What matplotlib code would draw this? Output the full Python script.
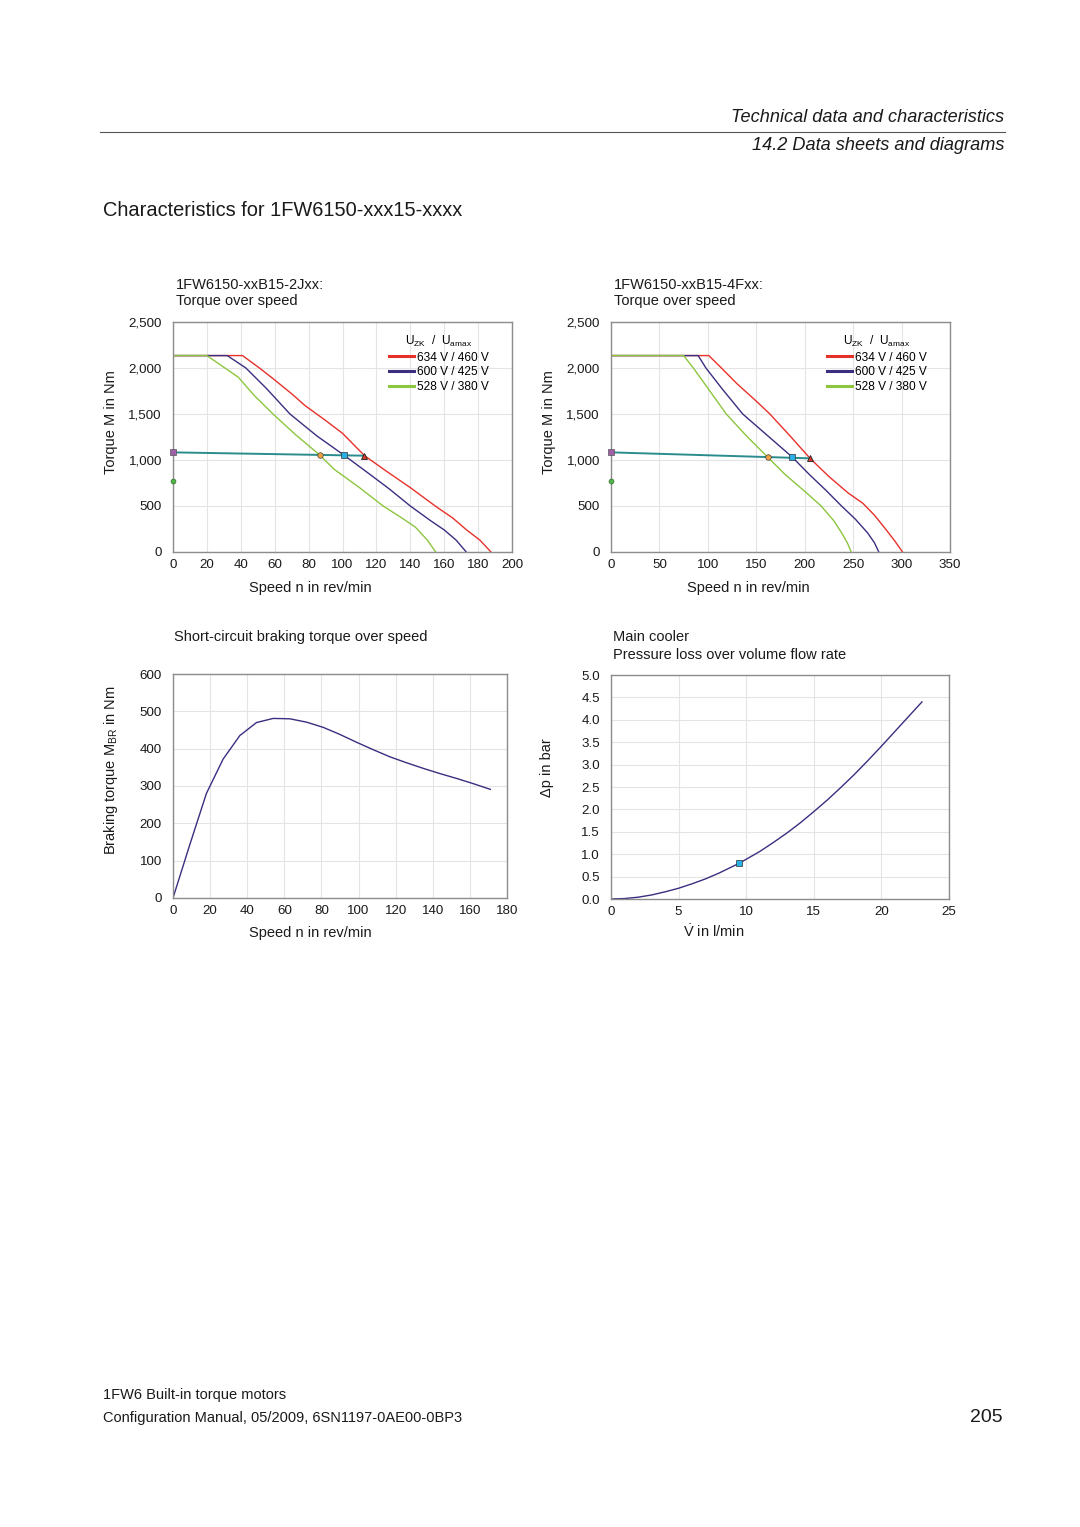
import matplotlib
matplotlib.use("Agg")
import matplotlib.pyplot as plt
from matplotlib.ticker import FuncFormatter, MultipleLocator

plt.rcParams['font.family'] = ['Liberation Sans', 'DejaVu Sans']
plt.rcParams['mathtext.fontset'] = 'custom'
plt.rcParams['mathtext.rm'] = 'Liberation Sans'
plt.rcParams['mathtext.it'] = 'Liberation Sans:italic'
plt.rcParams['mathtext.bf'] = 'Liberation Sans:bold'

# ---------------- data ----------------
# Chart 1: 1FW6150-xxB15-2Jxx torque over speed
tl_red_n = [0, 41, 51, 60, 70, 78, 90, 100, 113, 125, 140, 155, 165, 173, 181, 187.6]
tl_red_m = [2135, 2135, 2000, 1870, 1720, 1590, 1430, 1290, 1047, 890, 700, 496, 370, 243, 130, 0]
tl_blue_n = [0, 32, 43, 55, 69, 85, 101, 115, 128, 140, 152, 160, 167, 173]
tl_blue_m = [2135, 2135, 2000, 1780, 1500, 1260, 1051, 860, 680, 500, 340, 240, 130, 0]
tl_green_n = [0, 20, 38.5, 48, 59, 72, 86.6, 95, 110, 124, 135, 143, 150, 155]
tl_green_m = [2135, 2135, 1900, 1700, 1500, 1280, 1054, 900, 700, 500, 370, 270, 130, 0]
tl_op_n = [0, 112.7]
tl_op_m = [1083, 1047]
tl_pts_n = [0, 0, 86.6, 101.1, 112.7]
tl_pts_m = [1083, 768, 1054, 1051, 1047]

# Chart 2: 1FW6150-xxB15-4Fxx torque over speed
tr_red_n = [0, 101, 114, 130, 150, 164, 185, 205.5, 225, 245, 260, 272, 284, 293, 301]
tr_red_m = [2135, 2135, 2000, 1830, 1640, 1500, 1260, 1018, 820, 640, 530, 400, 243, 120, 0]
tr_blue_n = [0, 90, 98, 115, 136, 160, 187, 205, 222, 238, 252, 265, 272, 276.5]
tr_blue_m = [2135, 2135, 2000, 1770, 1500, 1280, 1033, 840, 670, 500, 360, 207, 100, 0]
tr_green_n = [0, 75, 85, 100, 119, 140, 161.6, 180, 200, 217, 230, 238, 244, 248]
tr_green_m = [2135, 2135, 2000, 1780, 1500, 1260, 1033, 840, 660, 500, 340, 210, 100, 0]
tr_op_n = [0, 205.5]
tr_op_m = [1083, 1018]
tr_pts_n = [0, 0, 161.6, 187, 205.5]
tr_pts_m = [1083, 768, 1033, 1033, 1018]

# Chart 3: short-circuit braking torque over speed
br_n = [0, 9, 18, 27, 36, 45, 54, 63, 72, 81, 90, 99, 108, 117, 126, 135, 144, 153, 162, 171]
br_m = [0, 142, 280, 372, 435, 470, 481, 480, 471, 457, 438, 417, 397, 378, 362, 347, 333, 320, 306, 291]

# Chart 4: main cooler pressure loss over volume flow rate
pl_v = [0, 1, 2, 3, 4, 5, 6, 7, 8, 9.5, 11, 12, 13, 14, 15, 16, 17, 18, 19, 20, 21, 22, 23]
pl_p = [0, 0.01, 0.04, 0.09, 0.16, 0.24, 0.34, 0.45, 0.58, 0.80, 1.06, 1.26, 1.47, 1.70, 1.95, 2.21, 2.49, 2.78, 3.09, 3.41, 3.74, 4.07, 4.40]
pl_pt_v = [9.5]
pl_pt_p = [0.80]

legend_labels = ['634 V / 460 V', '600 V / 425 V', '528 V / 380 V']

# ---------------- style ----------------
RED = '#e8302a'
NAVY = '#3a2e80'
GREEN = '#8cc63e'
TEAL = '#2a8c8c'
GRID = '#e4e4e4'
SPINE = '#8c8c8c'
TXT = '#1a1a1a'
FS = 10.5

W, H = 1080, 1527
fig = plt.figure(figsize=(W / 100, H / 100), dpi=100)


def ax_box(l, t, r, b):
    return [l / W, 1 - b / H, (r - l) / W, (b - t) / H]


def style(ax, xmax, xstep, ymax, ystep, fmt):
    ax.set_xlim(0, xmax)
    ax.set_ylim(0, ymax)
    ax.xaxis.set_major_locator(MultipleLocator(xstep))
    ax.yaxis.set_major_locator(MultipleLocator(ystep))
    ax.yaxis.set_major_formatter(FuncFormatter(fmt))
    ax.grid(True, color=GRID, lw=0.8)
    ax.set_axisbelow(True)
    for s in ax.spines.values():
        s.set_color(SPINE)
        s.set_linewidth(1.0)
    ax.tick_params(length=0, labelsize=9.6, colors=TXT)
    ax.tick_params(axis='y', pad=8)
    ax.tick_params(axis='x', pad=5)


def thousands(v, p):
    return f'{int(v):,}'


def torque_chart(box, rn, rm, bn, bm, gn, gm, on, om, pn, pm, xmax, xstep):
    ax = fig.add_axes(ax_box(*box))
    style(ax, xmax, xstep, 2500, 500, thousands)
    l1, = ax.plot(rn, rm, color=RED, lw=1.0)
    l2, = ax.plot(bn, bm, color=NAVY, lw=1.0)
    l3, = ax.plot(gn, gm, color=GREEN, lw=1.0)
    ax.plot(on, om, color=TEAL, lw=1.4, zorder=4)
    ax.plot(pn[0], pm[0], 's', color='#a060a8', mec='#555555', mew=0.5, ms=4, zorder=6, clip_on=False)
    ax.plot(pn[1], pm[1], 'o', color='#4fb848', mec='#2e6a2a', mew=0.5, ms=3.5, zorder=6, clip_on=False)
    ax.plot(pn[2], pm[2], 'o', color='#f0a040', mec='#444444', mew=0.5, ms=4, zorder=6)
    ax.plot(pn[3], pm[3], 's', color='#2ab0e8', mec='#333333', mew=0.5, ms=4.5, zorder=6)
    ax.plot(pn[4], pm[4], '^', color='#d9382c', mec='#222222', mew=0.6, ms=4.5, zorder=6)
    leg = ax.legend([l1, l2, l3], legend_labels, loc='upper right',
                    bbox_to_anchor=(0.955, 0.985), frameon=False, fontsize=8.6,
                    handlelength=2.1, handletextpad=0.2, labelspacing=0.22,
                    borderpad=0.2, title=r'U$_{\mathrm{ZK}}$  /  U$_{\mathrm{amax}}$',
                    title_fontsize=8.6)
    for h in leg.get_lines():
        h.set_linewidth(2.2)
    return ax


ax1 = torque_chart((173, 322, 512, 552), tl_red_n, tl_red_m, tl_blue_n, tl_blue_m,
                   tl_green_n, tl_green_m, tl_op_n, tl_op_m, tl_pts_n, tl_pts_m, 200, 20)
ax2 = torque_chart((611, 322, 950, 552), tr_red_n, tr_red_m, tr_blue_n, tr_blue_m,
                   tr_green_n, tr_green_m, tr_op_n, tr_op_m, tr_pts_n, tr_pts_m, 350, 50)

ax3 = fig.add_axes(ax_box(173, 674, 507, 898))
style(ax3, 180, 20, 600, 100, thousands)
ax3.plot(br_n, br_m, color=NAVY, lw=1.0)

ax4 = fig.add_axes(ax_box(611, 675, 949, 899))
style(ax4, 25, 5, 5.0, 0.5, lambda v, p: f'{v:.1f}')
ax4.plot(pl_v, pl_p, color=NAVY, lw=1.0)
ax4.plot(pl_pt_v, pl_pt_p, 's', color='#2ab0e8', mec='#333333', mew=0.5, ms=4, zorder=5)


def ftext(x, y, s, **kw):
    kw.setdefault('color', TXT)
    fig.text(x / W, 1 - y / H, s, **kw)


# titles
ftext(176, 285, '1FW6150-xxB15-2Jxx:', fontsize=FS, va='center')
ftext(176, 301, 'Torque over speed', fontsize=FS, va='center')
ftext(614, 285, '1FW6150-xxB15-4Fxx:', fontsize=FS, va='center')
ftext(614, 301, 'Torque over speed', fontsize=FS, va='center')
ftext(174, 637, 'Short-circuit braking torque over speed', fontsize=FS, va='center')
ftext(613, 637, 'Main cooler', fontsize=FS, va='center')
ftext(613, 655, 'Pressure loss over volume flow rate', fontsize=FS, va='center')

# axis labels
ftext(111, 422, 'Torque M in Nm', fontsize=FS, rotation=90, ha='center', va='center')
ftext(549, 422, 'Torque M in Nm', fontsize=FS, rotation=90, ha='center', va='center')
ftext(310, 588, 'Speed n in rev/min', fontsize=FS, ha='center', va='center')
ftext(748, 588, 'Speed n in rev/min', fontsize=FS, ha='center', va='center')
ftext(111, 770, r'Braking torque M$_{\mathrm{BR}}$ in Nm', fontsize=FS, rotation=90, ha='center', va='center')
ftext(310, 933, 'Speed n in rev/min', fontsize=FS, ha='center', va='center')
ftext(547, 768, 'Δp in bar', fontsize=FS, rotation=90, ha='center', va='center')
ftext(714, 932, r'$\dot{\mathrm{V}}$ in l/min', fontsize=FS, ha='center', va='center')

# page header
ftext(1004, 118, 'Technical data and characteristics', fontsize=13.1, style='italic', ha='right', va='center')
ftext(1004, 145, '14.2 Data sheets and diagrams', fontsize=13.1, style='italic', ha='right', va='center')
fig.add_artist(plt.Line2D([100 / W, 1005 / W], [1 - 132 / H, 1 - 132 / H], color='#555555', lw=0.8))
ftext(103, 211, 'Characteristics for 1FW6150-xxx15-xxxx', fontsize=14.4, ha='left', va='center')

# footer
ftext(103, 1395, '1FW6 Built-in torque motors', fontsize=FS, va='center')
ftext(103, 1418, 'Configuration Manual, 05/2009, 6SN1197-0AE00-0BP3', fontsize=FS, va='center')
ftext(1003, 1417, '205', fontsize=14, ha='right', va='center')

fig.savefig('out.png', dpi=100, facecolor='white')
